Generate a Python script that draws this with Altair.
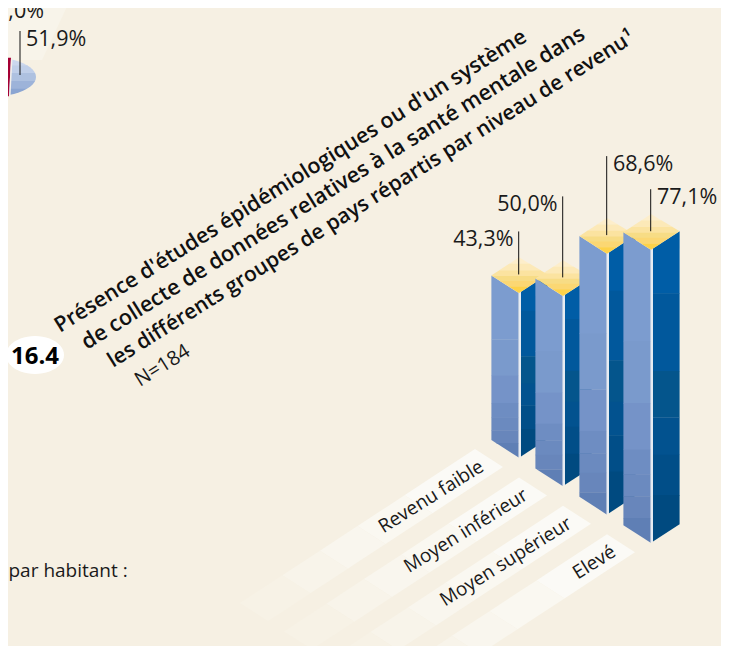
import altair as alt
import pandas as pd
import math

# ---- chart values -------------------------------------------------------
CATEGORIES = ["Revenu faible", "Moyen inférieur", "Moyen supérieur", "Elevé"]
VALUES = [43.3, 50.0, 68.6, 77.1]
VALUE_LABELS = ["43,3%", "50,0%", "68,6%", "77,1%"]
TITLE_LINES = [
    "Présence d'études épidémiologiques ou d'un système",
    "de collecte de données relatives à la santé mentale dans",
    "les différents groupes de pays répartis par niveau de revenu¹",
]
SUBTITLE = "N=184"
BADGE = "16.4"
FOOT = "par habitant :"
PIE_LABELS = ["50,0%", "51,9%"]

# ---- layout / style -----------------------------------------------------
W, H = 721, 646
BG = "#f6f0e3"
FONT = "Open Sans"
PX_PER_PCT = 3.8
BASE_X0, BASE_Y0 = 519.0, 457.6     # front-bottom corner of first bar
STEP_X, STEP_Y = 44.0, 28.4         # step between categories on the floor
HALF_W, HALF_H = 27.6, 17.6
LEADER_EXTRA = [43, 81, 79, 42]     # leader length above the top face

LIGHT = [(.35, "#7c9ccf"), (.55, "#7a9acc"), (.70, "#7593c8"), (.78, "#6e8dc2"),
         (.85, "#6b8abf"), (.92, "#6886bb"), (1.0, "#5f7fb5")]
DARK = [(.20, "#005da6"), (.45, "#01589c"), (.60, "#04558c"), (.72, "#02528f"),
        (.85, "#014e88"), (1.0, "#004a80")]
GOLD = [(.18, "#fdeecb"), (.36, "#fce9b8"), (.52, "#fbe3a0"), (.66, "#f7dc85"),
        (.82, "#fbd773"), (1.0, "#fdd24a")]
PIE_BLUE = [(.2, "#cbd7ee"), (.4, "#c0cfe9"), (.6, "#aec1e0"), (.8, "#9db3d9"), (1.0, "#8ba5d2")]
FADE = [(.30, "#fbfaf6"), (.50, "#faf8f1"), (.66, "#f9f6ee"), (.82, "#f8f4ea"), (1.0, "#f7f2e6")]

rows = []
pid = 0


def area_rows(points, color):
    """Turn a convex polygon into x / y / y2 rows for an area mark."""
    global pid
    pid += 1
    xs = sorted({round(p[0], 3) for p in points})
    n = len(points)
    for x in xs:
        ys = []
        for i in range(n):
            a, b = points[i], points[(i + 1) % n]
            lo, hi = min(a[0], b[0]), max(a[0], b[0])
            if lo - 1e-3 <= x <= hi + 1e-3:
                if abs(b[0] - a[0]) < 1e-6:
                    ys += [a[1], b[1]]
                else:
                    ys.append(a[1] + (x - a[0]) / (b[0] - a[0]) * (b[1] - a[1]))
        rows.append(dict(poly=pid, x=x, y=min(ys), y2=max(ys), color=color))


def clip(points, ymin, ymax):
    def half(poly, keep, cross):
        out = []
        for i in range(len(poly)):
            a, b = poly[i], poly[(i + 1) % len(poly)]
            if keep(a):
                out.append(a)
            if keep(a) != keep(b):
                t = (cross - a[1]) / (b[1] - a[1])
                out.append((a[0] + t * (b[0] - a[0]), cross))
        return out
    p = half(points, lambda q: q[1] >= ymin, ymin)
    return half(p, lambda q: q[1] <= ymax, ymax) if p else p


def banded(points, bands):
    top = min(p[1] for p in points)
    bot = max(p[1] for p in points)
    start = 0.0
    for end, color in bands:
        p = clip(points, top + start * (bot - top), top + end * (bot - top) + (0.4 if end < 1 else 0))
        if len(p) >= 3:
            area_rows(p, color)
        start = end


def ellipse(cx, cy, rx, ry, n=48):
    return [(cx + rx * math.cos(2 * math.pi * i / n), cy + ry * math.sin(2 * math.pi * i / n)) for i in range(n)]


# faint strip behind the cut-off pie, top left
area_rows([(0, 0), (70, 0), (42, 60), (0, 60)], "#f8f4ea")

# pie fragment
pie = [p for p in ellipse(-8, 77, 44, 19.5)]
banded(clip(pie, 0, 200), PIE_BLUE)
# red slice, kept just inside the page margin
area_rows(clip(ellipse(-8, 77, 44, 19.5), 0, 200), "#cbd7ee") if False else None
area_rows(clip([(-10, 57.8), (11, 57.8), (9, 96.2), (-10, 96.2)], 57.8, 96.2), "#a50034")
area_rows([(11, 57.8), (12.5, 57.8), (10.5, 96.2), (9, 96.2)], "#f4f0ea")

# floor strips with category names
for i in range(4):
    ax, ay = 475 + i * STEP_X, 449 + i * STEP_Y
    bx, by = ax + 28, ay + 18
    ux, uy = -235, 154
    t0 = 0.0
    for t1, color in FADE:
        area_rows([(ax + ux * t0, ay + uy * t0), (bx + ux * t0, by + uy * t0),
                   (bx + ux * t1, by + uy * t1), (ax + ux * t1, ay + uy * t1)], color)
        t0 = t1

# bars
leaders, val_text = [], []
for i, v in enumerate(VALUES):
    fx = BASE_X0 + i * STEP_X
    fy = BASE_Y0 + i * STEP_Y
    h = v * PX_PER_PCT
    ty = fy - h
    banded([(fx - HALF_W, ty - HALF_H), (fx - .3, ty), (fx - .3, fy), (fx - HALF_W, fy - HALF_H)], LIGHT)
    area_rows([(fx - .3, ty), (fx + 2, ty - 1.2), (fx + 2, fy - 1.2), (fx - .3, fy)], "#e6ebf2")
    banded([(fx + 2, ty - 1.2), (fx + HALF_W + 1, ty - HALF_H - 1), (fx + HALF_W + 1, fy - HALF_H - 1), (fx + 2, fy - 1.2)], DARK)
    banded([(fx, ty - 2 * HALF_H - 0.5), (fx + HALF_W + 1, ty - HALF_H - 1), (fx, ty), (fx - HALF_W, ty - HALF_H)], GOLD)
    y_end = ty - HALF_H - 1
    y_top = y_end - LEADER_EXTRA[i]
    leaders.append(dict(x=fx - .3, y=y_top, y2=y_end))
    right = i < 2
    val_text.append(dict(x=fx - 5.5 if right else fx + 6, y=y_top + 15,
                         t=VALUE_LABELS[i], a="right" if right else "left"))

polys = pd.DataFrame(rows)

X = alt.X("x:Q", axis=None, scale=alt.Scale(domain=[8, W], range=[0, W - 8], nice=False, zero=False))
Y = alt.Y("y:Q", axis=None, stack=None, scale=alt.Scale(domain=[8, H], range=[0, H - 8], nice=False, zero=False))

shapes = alt.Chart(polys).mark_area(orient="vertical", interpolate="linear").encode(
    x=X, y=Y, y2="y2:Q", detail="poly:N", color=alt.Color("color:N", scale=None))


def shape_only(points, color):
    start = len(rows)
    area_rows(points, color)
    d = pd.DataFrame(rows[start:])
    return alt.Chart(d).mark_area(orient="vertical", interpolate="linear").encode(
        x=X, y=Y, y2="y2:Q", color=alt.value(color))


badge_shape = shape_only(ellipse(35, 355, 29, 19), "#ffffff")

rules_data = pd.DataFrame(leaders + [dict(x=20, y=31, y2=75)])
rules = alt.Chart(rules_data).mark_rule(color="#111111", strokeWidth=1).encode(x=X, y=Y, y2="y2:Q")


def text_layer(items, size, weight="normal", angle=0, align="left", color="#1a1a1a"):
    d = pd.DataFrame(items, columns=["x", "y", "t"])
    return alt.Chart(d).mark_text(font=FONT, fontSize=size, fontWeight=weight, angle=angle, align=align,
                                  baseline="alphabetic", color=color).encode(x=X, y=Y, text="t:N")


ANGLE = 328
title_1 = text_layer([(60, 333, TITLE_LINES[0])], 21.4, weight=600, angle=ANGLE, color="#111111")
title_2 = text_layer([(87, 350, TITLE_LINES[1])], 21.7, weight=600, angle=ANGLE, color="#111111")
title_3 = text_layer([(113, 368, TITLE_LINES[2])], 21, weight=600, angle=ANGLE, color="#111111")
sub_layer = text_layer([(140, 387, SUBTITLE)], 20, angle=ANGLE)
badge_text = text_layer([(35, 364, BADGE)], 24, weight="bold", align="center", color="#000000")
foot = text_layer([(8.5, 577, FOOT)], 19)
cats = text_layer([(485 + i * STEP_X, 470 + i * STEP_Y, c) for i, c in enumerate(CATEGORIES)],
                  19, angle=ANGLE, align="right")
val_r = text_layer([(d["x"], d["y"], d["t"]) for d in val_text if d["a"] == "right"], 21.5, align="right")
val_l = text_layer([(d["x"], d["y"], d["t"]) for d in val_text if d["a"] == "left"], 21.5)
pie_r = text_layer([(44, 18, PIE_LABELS[0])], 21.5, align="right")
pie_l = text_layer([(26, 46, PIE_LABELS[1])], 21.5)

chart = alt.layer(shapes, badge_shape, rules, title_1, title_2, title_3, sub_layer, badge_text, foot, cats,
                  val_r, val_l, pie_r, pie_l
                  ).properties(
    width=W - 8, height=H - 8, background=BG, padding=0,
    autosize=alt.AutoSizeParams(type="none"),
).configure_view(stroke=None)

chart.save("out.html", embed_options={"renderer": "svg", "actions": False})
